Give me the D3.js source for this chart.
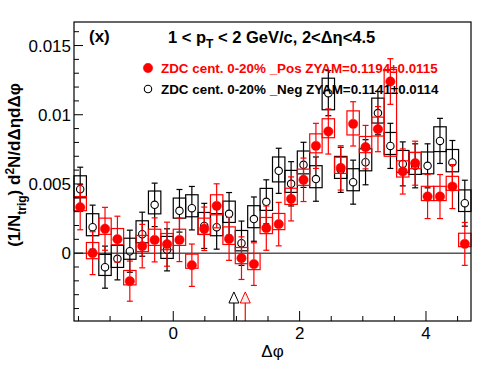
<!DOCTYPE html>
<html>
<head>
<meta charset="utf-8">
<script src="https://cdn.jsdelivr.net/npm/d3@7"></script>
<style>
body { margin: 0; background: #fff; }
text { font-family: "Liberation Sans", Arial, Helvetica, sans-serif; }
</style>
</head>
<body>
<svg id="corrPlot" width="496" height="374"></svg>
<script>
// per-bin values (32 bins over -pi/2 .. 3pi/2)
let negVals = [0.00462, 0.00188, -0.00101, -0.00041, 0.00014, 0.00137, 0.00349, 0.00024,
               0.00306, 0.00325, 0.00197, 0.00188, 0.00284, 0.00072, 0.00246, 0.00371,
               0.00595, 0.00501, 0.00638, 0.00535, 0.01156, 0.00602, 0.00513, 0.00657,
               0.01012, 0.00775, 0.00645, 0.00631, 0.00631, 0.00811, 0.00655, 0.00361];
let negStat = [0.00159, 0.00159, 0.00152, 0.00152, 0.00152, 0.00159, 0.00157, 0.00152,
               0.00154, 0.00157, 0.00163, 0.00159, 0.00154, 0.0016, 0.0016, 0.00159,
               0.00163, 0.0016, 0.00163, 0.0016, 0.00163, 0.00163, 0.00159, 0.00163,
               0.00157, 0.00163, 0.00159, 0.00159, 0.00159, 0.00163, 0.00159, 0.00166];
let posVals = [0.00332, 0.0, 0.00176, 0.00101, -0.00202, 0.00051, 0.00096, 0.00065,
               0.00096, -0.00087, 0.00176, 0.00342, 0.00103, -0.00036, -0.00079, 0.00181,
               0.0021, 0.00392, 0.0053, 0.00775, 0.00879, 0.00616, 0.00934, 0.00766,
               0.00896, 0.0124, 0.0059, 0.0065, 0.00409, 0.00409, 0.00481, 0.00067];
let posStat = [0.00163, 0.00155, 0.00155, 0.00166, 0.00145, 0.00157, 0.00159, 0.00159,
               0.00157, 0.00153, 0.00157, 0.00159, 0.00155, 0.00154, 0.00154, 0.0016,
               0.00157, 0.00159, 0.00157, 0.00163, 0.00163, 0.0016, 0.0016, 0.00157,
               0.00163, 0.00165, 0.00163, 0.00159, 0.00159, 0.00159, 0.00159, 0.00155];
// systematic box extent below / above each point
let negSysUp = [0.00097, 0.00097, 0.00092, 0.00097, 0.00094, 0.00097, 0.001, 0.00097,
                0.00092, 0.00097, 0.00097, 0.00097, 0.00092, 0.00092, 0.00097, 0.00097,
                0.001, 0.00097, 0.001, 0.00097, 0.00108, 0.00097, 0.00097, 0.00097,
                0.00108, 0.00097, 0.00097, 0.00097, 0.001, 0.00102, 0.00094, 0.00096];
let negSysDn = [0.00062, 0.00062, 0.0006, 0.00062, 0.00058, 0.00062, 0.00065, 0.00062,
                0.00053, 0.00062, 0.00062, 0.00062, 0.00062, 0.00055, 0.00062, 0.00062,
                0.0008, 0.00062, 0.00065, 0.00062, 0.0012, 0.00062, 0.00062, 0.00062,
                0.00072, 0.00062, 0.00062, 0.00062, 0.00058, 0.00077, 0.00067, 0.0006];
let posSysUp = [0.00077, 0.00077, 0.00077, 0.00077, 0.00077, 0.00077, 0.00077, 0.00077,
                0.00077, 0.0008, 0.00077, 0.0008, 0.00087, 0.00077, 0.00077, 0.00077,
                0.00077, 0.00077, 0.00077, 0.00087, 0.00092, 0.00077, 0.00094, 0.00077,
                0.00087, 0.00087, 0.00077, 0.00077, 0.00074, 0.00074, 0.00074, 0.00077];
let posSysDn = [0.00025, 0.0004, 0.0004, 0.0004, 0.00027, 0.0004, 0.0004, 0.0004,
                0.0004, 0.00022, 0.0004, 0.00065, 0.0004, 0.0004, 0.0004, 0.0004,
                0.0004, 0.0004, 0.0004, 0.0005, 0.00045, 0.0004, 0.0008, 0.0004,
                0.0005, 0.0054, 0.0004, 0.0004, 0.00029, 0.00029, 0.00027, 0.0002];

// zyam minimum positions
let zyamMarks = [{dphi: 0.96, color: 'black', fill: '#ffffff'},
                 {dphi: 1.14, color: '#ff0000', fill: '#f0f0f0'}];

let yMajor = [0, 0.005, 0.01, 0.015];
let yMinor = d3.range(-4, 17).map(d => d * 0.001);
let xMajor = [0, 2, 4];
let xMinor = [-1.5, -1, -0.5, 0.5, 1, 1.5, 2.5, 3, 3.5, 4.5];

let legendItems = [
    {label: 'ZDC cent. 0-20% _Pos ZYAM=0.1194\u00b10.0115', color: '#ff0000', filled: true},
    {label: 'ZDC cent. 0-20% _Neg ZYAM=0.1141\u00b10.0114', color: 'black', filled: false}
];

function drawPlot(){
    let plotSVG = d3.select('#corrPlot');

    let margL = 74;
    let margR = 471;
    let margT = 22;
    let margB = 321;

    let xScale = d3.scaleLinear()
                    .domain([-Math.PI / 2, 3 * Math.PI / 2])
                    .range([margL, margR]);
    let yScale = d3.scaleLinear()
                    .domain([-0.0049, 0.0167])
                    .range([margB, margT]);

    let binW = Math.PI / 16;
    let binCenters = d3.range(32).map(i => -Math.PI / 2 + (i + 0.5) * binW);
    let binPx = xScale(binW) - xScale(0);

    // white background
    plotSVG.append('rect')
        .attr('width', 496).attr('height', 374).attr('fill', 'white');

    // zero line
    plotSVG.append('line')
        .attr('x1', margL).attr('x2', margR)
        .attr('y1', yScale(0)).attr('y2', yScale(0))
        .attr('stroke', 'black').attr('stroke-width', 1);

    // one series: boxes, error bars, markers
    function drawSeries(vals, stat, sysUp, sysDn, color, filled){
        let grp = plotSVG.append('g');
        let rows = vals.map((v, i) => ({x: binCenters[i], v: v, e: stat[i], up: sysUp[i], dn: sysDn[i]}));

        grp.selectAll('.sysBox')
            .data(rows)
            .enter()
            .append('rect')
            .attr('x', d => xScale(d.x) - binPx / 2)
            .attr('width', binPx)
            .attr('y', d => yScale(d.v + d.up))
            .attr('height', d => yScale(d.v - d.dn) - yScale(d.v + d.up))
            .attr('fill', 'none')
            .attr('stroke', color)
            .attr('stroke-width', 1.2);

        let r = filled ? 4.6 : 3.8;
        // error bar halves, skipping the marker
        grp.selectAll('.errUp')
            .data(rows)
            .enter()
            .append('line')
            .attr('x1', d => xScale(d.x)).attr('x2', d => xScale(d.x))
            .attr('y1', d => yScale(d.v) - r)
            .attr('y2', d => yScale(d.v + d.e))
            .attr('stroke', color).attr('stroke-width', 1.2);
        grp.selectAll('.errDn')
            .data(rows)
            .enter()
            .append('line')
            .attr('x1', d => xScale(d.x)).attr('x2', d => xScale(d.x))
            .attr('y1', d => yScale(d.v) + r)
            .attr('y2', d => yScale(d.v - d.e))
            .attr('stroke', color).attr('stroke-width', 1.2);
        // caps
        [1, -1].forEach(function(sgn){
            grp.selectAll('.cap' + sgn)
                .data(rows)
                .enter()
                .append('line')
                .attr('x1', d => xScale(d.x) - 3).attr('x2', d => xScale(d.x) + 3)
                .attr('y1', d => yScale(d.v + sgn * d.e))
                .attr('y2', d => yScale(d.v + sgn * d.e))
                .attr('stroke', color).attr('stroke-width', 1.2);
        });

        grp.selectAll('circle')
            .data(rows)
            .enter()
            .append('circle')
            .attr('cx', d => xScale(d.x))
            .attr('cy', d => yScale(d.v))
            .attr('r', filled ? 4.7 : 3.7)
            .attr('fill', filled ? color : 'none')
            .attr('stroke', color)
            .attr('stroke-width', filled ? 0.5 : 1.1);
    }

    drawSeries(negVals, negStat, negSysUp, negSysDn, 'black', false);
    drawSeries(posVals, posStat, posSysUp, posSysDn, '#ff0000', true);

    // zyam markers: triangle with a line to the axis
    let zGrp = plotSVG.append('g');
    zyamMarks.forEach(function(m){
        let cx = xScale(m.dphi);
        let yTop = yScale(-0.0028);
        let yBase = yScale(-0.0036);
        zGrp.append('line')
            .attr('x1', cx).attr('x2', cx)
            .attr('y1', yBase).attr('y2', margB)
            .attr('stroke', m.color).attr('stroke-width', 1.2);
        zGrp.append('path')
            .attr('d', 'M' + cx + ',' + yTop + 'L' + (cx + 5) + ',' + yBase + 'L' + (cx - 5) + ',' + yBase + 'Z')
            .attr('fill', m.fill)
            .attr('stroke', m.color).attr('stroke-width', 1);
    });

    // frame
    plotSVG.append('rect')
        .attr('x', margL).attr('y', margT)
        .attr('width', margR - margL).attr('height', margB - margT)
        .attr('fill', 'none').attr('stroke', 'black').attr('stroke-width', 1.2);

    // y ticks (inside)
    let axGrp = plotSVG.append('g');
    axGrp.selectAll('.yMin')
        .data(yMinor)
        .enter()
        .append('line')
        .attr('x1', margL).attr('x2', d => margL + (yMajor.some(m => Math.abs(m - d) < 1e-9) ? 9 : 5))
        .attr('y1', d => yScale(d)).attr('y2', d => yScale(d))
        .attr('stroke', 'black').attr('stroke-width', 1);
    axGrp.selectAll('.yLab')
        .data(yMajor)
        .enter()
        .append('text')
        .attr('x', margL - 3)
        .attr('y', d => yScale(d) + 6)
        .attr('text-anchor', 'end')
        .attr('font-size', 17)
        .text(d => d === 0 ? '0' : String(d));

    // x ticks (inside)
    axGrp.selectAll('.xMin')
        .data(xMinor)
        .enter()
        .append('line')
        .attr('x1', d => xScale(d)).attr('x2', d => xScale(d))
        .attr('y1', margB).attr('y2', margB - 5)
        .attr('stroke', 'black').attr('stroke-width', 1);
    axGrp.selectAll('.xMaj')
        .data(xMajor)
        .enter()
        .append('line')
        .attr('x1', d => xScale(d)).attr('x2', d => xScale(d))
        .attr('y1', margB).attr('y2', margB - 10)
        .attr('stroke', 'black').attr('stroke-width', 1);
    axGrp.selectAll('.xLab')
        .data(xMajor)
        .enter()
        .append('text')
        .attr('x', d => xScale(d))
        .attr('y', 339)
        .attr('text-anchor', 'middle')
        .attr('font-size', 17)
        .text(d => d);

    // axis titles
    plotSVG.append('text')
        .attr('x', (margL + margR) / 2)
        .attr('y', 357)
        .attr('text-anchor', 'middle')
        .attr('font-size', 17)
        .text('\u0394\u03c6');

    let yTitle = plotSVG.append('text')
        .attr('transform', 'translate(20,165) rotate(-90)')
        .attr('text-anchor', 'middle')
        .attr('font-size', 17)
        .attr('font-weight', 'bold');
    yTitle.append('tspan').text('(1/N');
    yTitle.append('tspan').attr('font-size', 12).attr('dy', 6).text('trig');
    yTitle.append('tspan').attr('dy', -6).text(') d');
    yTitle.append('tspan').attr('font-size', 12).attr('dy', -6).text('2');
    yTitle.append('tspan').attr('dy', 6).text('N/d\u0394\u03b7d\u0394\u03c6');

    // panel label and title
    plotSVG.append('text')
        .attr('x', 89).attr('y', 42)
        .attr('font-size', 17).attr('font-weight', 'bold')
        .text('(x)');

    let title = plotSVG.append('text')
        .attr('x', 168).attr('y', 43)
        .attr('font-size', 16.5).attr('font-weight', 'bold');
    title.append('tspan').text('1 < p');
    title.append('tspan').attr('font-size', 12).attr('dy', 5).text('T');
    title.append('tspan').attr('dy', -5).text(' < 2 GeV/c, 2<\u0394\u03b7<4.5');

    // legend
    let legGrp = plotSVG.append('g');
    legGrp.selectAll('circle')
        .data(legendItems)
        .enter()
        .append('circle')
        .attr('cx', 148)
        .attr('cy', (d, i) => 68 + i * 21)
        .attr('r', d => d.filled ? 4.7 : 3.7)
        .attr('fill', d => d.filled ? d.color : 'none')
        .attr('stroke', d => d.color)
        .attr('stroke-width', d => d.filled ? 0.5 : 1.1);
    legGrp.selectAll('text')
        .data(legendItems)
        .enter()
        .append('text')
        .attr('x', 161)
        .attr('y', (d, i) => 73 + i * 21)
        .attr('font-size', 13.4)
        .attr('font-weight', 'bold')
        .attr('fill', d => d.color)
        .text(d => d.label);
}

drawPlot();
</script>
</body>
</html>
